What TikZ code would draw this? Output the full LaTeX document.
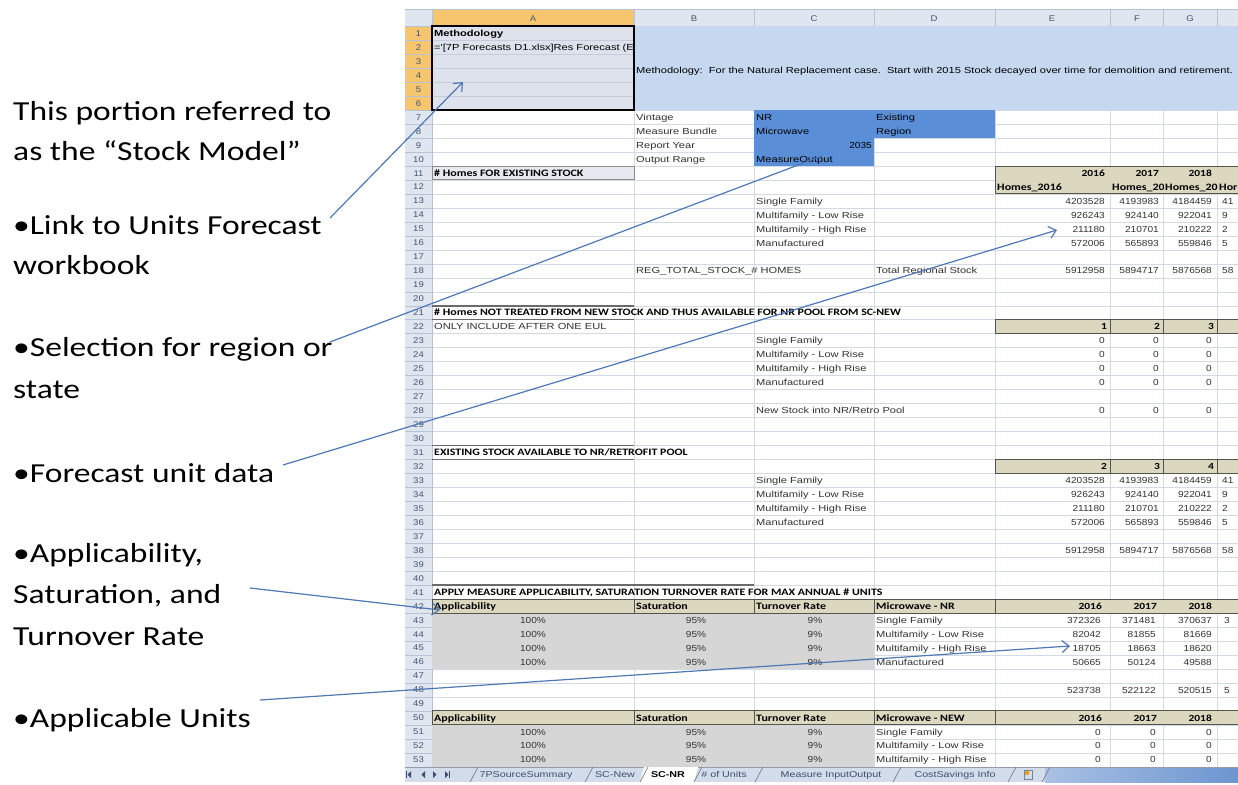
\documentclass[tikz,border=0pt]{standalone}
\usepackage{fontspec}
\setmainfont{Liberation Sans}
\newfontfamily\lblfont[FakeStretch=1.22]{Carlito}
\newfontfamily\cellfont[FakeStretch=1.26]{Liberation Sans}
\newfontfamily\numfont[FakeStretch=1.15]{Liberation Sans}
\newfontfamily\hdfont[FakeStretch=1.22]{Carlito}
\usetikzlibrary{arrows.meta}
\definecolor{gridc}{HTML}{D3DAE6}
\definecolor{hdrbg}{HTML}{DFE6F0}
\definecolor{hdrline}{HTML}{B7C3D5}
\definecolor{hdrtx}{HTML}{44546F}
\definecolor{selhdr}{HTML}{F6C66E}
\definecolor{selfill}{HTML}{DDE2EC}
\definecolor{selline}{HTML}{C6CDDA}
\definecolor{methblue}{HTML}{C5D8F0}
\definecolor{midblue}{HTML}{5A8FD8}
\definecolor{tanc}{HTML}{DCD8C0}
\definecolor{tanedge}{HTML}{55544C}
\definecolor{grayfill}{HTML}{D6D6D6}
\definecolor{celltx}{HTML}{333333}
\definecolor{arrowc}{HTML}{4F78B5}
\definecolor{tabbg}{HTML}{D3DCEA}
\definecolor{tabtx}{HTML}{3C4E6E}
\definecolor{linec}{HTML}{6A6A6A}
\definecolor{boxfill}{HTML}{E6EAF0}
\definecolor{boxedge}{HTML}{8C8C8C}
\definecolor{tabblueL}{HTML}{A9C1E4}
\definecolor{tabblueR}{HTML}{6C95CF}
\begin{document}
\begin{tikzpicture}[x=1pt,y=-1pt,
  declare function={rc(\k)=33.3+(\k-1)*13.97; rt(\k)=26.3+(\k-1)*13.97;},
  cl/.style={font=\cellfont\fontsize{8.8}{10}\selectfont, text=celltx, inner sep=0pt, anchor=base west},
  cr/.style={cl, anchor=base east, font=\numfont\fontsize{8.8}{10}\selectfont},
  cc/.style={cl, anchor=base, font=\numfont\fontsize{8.8}{10}\selectfont},
  hb/.style={font=\hdfont\bfseries\fontsize{9.8}{10}\selectfont, text=black, inner sep=0pt, anchor=base west},
  hbr/.style={hb, anchor=base east, font=\hdfont\bfseries\fontsize{9.4}{10}\selectfont},
  lbl/.style={font=\lblfont\fontsize{27.5}{41.5}\selectfont, text=black, inner sep=0pt, anchor=base west},
  rn/.style={font=\numfont\fontsize{8.3}{10}\selectfont, text=hdrtx, inner sep=0pt, anchor=base},
  tabt/.style={font=\cellfont\fontsize{8.5}{10}\selectfont, text=tabtx, inner sep=0pt, anchor=base},
  conn/.style={draw=arrowc, line width=1.2pt},
  tip/.style={-{Straight Barb[length=7pt,width=12pt]}},
  tanbox/.style={fill=tanc, draw=tanedge, line width=0.9pt},
  secline/.style={draw=linec, line width=1.6pt}
]
\useasboundingbox (0,0) rectangle (1238,784);
\fill[white] (0,0) rectangle (1238,784);
% ---------- spreadsheet frame ----------
\fill[white] (405,8) rectangle (1238,767);
\draw[hdrline] (405,9) -- (1238,9);
% grid
\foreach \r in {1,...,54} \draw[gridc] (432,{rt(\r)}) -- (1238,{rt(\r)});
\foreach \x in {432,634,754,874,995,1110,1163,1217} \draw[gridc] (\x,26.3) -- (\x,{rt(54)});
% header band
\fill[hdrbg] (405,10) rectangle (1238,26.3);
\fill[selhdr] (432,10) rectangle (634,26.3);
\foreach \x in {432,634,754,874,995,1110,1163,1217} \draw[hdrline] (\x,10) -- (\x,26.3);
\draw[hdrline] (405,26.3) -- (1238,26.3);
% row header column
\fill[hdrbg] (405,26.3) rectangle (432,{rt(54)});
\fill[selhdr] (405,26.3) rectangle (432,{rt(7)});
\foreach \r in {1,...,54} \draw[hdrline] (405,{rt(\r)}) -- (432,{rt(\r)});
\draw[hdrline] (432,10) -- (432,{rt(54)});
% ---------- cell fills ----------
\fill[selfill] (432,{rt(1)}) rectangle (634,{rt(7)});
\foreach \r in {2,...,6} \draw[selline] (432,{rt(\r)}) -- (634,{rt(\r)});
\fill[methblue] (634,{rt(1)}) rectangle (1238,{rt(7)});
\fill[midblue] (754,{rt(7)}) rectangle (874,{rt(11)});
\fill[midblue] (874,{rt(7)}) rectangle (995,{rt(9)});
\draw[line width=2pt,black] (432,{rt(1)}) rectangle (634,{rt(7)});
\draw[fill=boxfill, draw=boxedge, line width=1pt] (432,{rt(11)}) rectangle (634,{rt(12)});
\draw[tanbox] (995,{rt(11)}) rectangle (1245,{rt(13)});
\draw[tanbox] (995,{rt(22)}) rectangle (1245,{rt(23)});
\foreach \x in {1110,1163,1217} \draw[tanedge,line width=0.9pt] (\x,{rt(22)}) -- (\x,{rt(23)});
\draw[tanbox] (995,{rt(32)}) rectangle (1245,{rt(33)});
\foreach \x in {1110,1163,1217} \draw[tanedge,line width=0.9pt] (\x,{rt(32)}) -- (\x,{rt(33)});
\draw[secline] (432,{rt(21)}) -- (634,{rt(21)});
\draw[secline] (432,{rt(22)}) -- (634,{rt(22)});
\draw[secline] (432,{rt(31)}) -- (634,{rt(31)});
\draw[secline] (432,{rt(32)}) -- (634,{rt(32)});
\draw[secline] (432,{rt(41)}) -- (754,{rt(41)});
\fill[grayfill] (432,{rt(43)}) rectangle (874,{rt(47)});
\fill[grayfill] (432,{rt(51)}) rectangle (874,{rt(54)});
\draw[tanbox] (432,{rt(42)}) rectangle (1245,{rt(43)});
\draw[tanbox] (432,{rt(50)}) rectangle (1245,{rt(51)});
\foreach \x in {634,754,874,995} {
  \draw[tanedge,line width=0.9pt] (\x,{rt(42)}) -- (\x,{rt(43)});
  \draw[tanedge,line width=0.9pt] (\x,{rt(50)}) -- (\x,{rt(51)});
}
% ---------- headers text ----------
\foreach \c/\x in {A/533,B/694,C/814,D/934,E/1052,F/1137,G/1190}
  \node[rn] (col\c) at (\x,21.3) {\c};
\foreach \r in {1,...,53} \node[rn] (rn\r) at (418.5,{rc(\r)+3}) {\r};
% ---------- cell texts ----------
\node[cl, font=\cellfont\bfseries\fontsize{8.8}{10}\selectfont, text=black] (A1) at (434,{rc(1)+3.2}) {Methodology};
\begin{scope}
  \clip (432,{rt(2)}) rectangle (633,{rt(3)});
  \node[cl, text=black] (A2) at (434,{rc(2)+3.2}) {='[7P Forecasts D1.xlsx]Res Forecast (E};
\end{scope}
\node[cl, text=black] (B4) at (636,73) {Methodology:\ \ For the Natural Replacement case.\ \ Start with 2015 Stock decayed over time for demolition and retirement.};
\node[cl] (B7) at (636,{rc(7)+3.2}) {Vintage};
\node[cl] (B8) at (636,{rc(8)+3.2}) {Measure Bundle};
\node[cl] (B9) at (636,{rc(9)+3.2}) {Report Year};
\node[cl] (B10) at (636,{rc(10)+3.2}) {Output Range};
\node[cl, text=black] (C7) at (756,{rc(7)+3.2}) {NR};
\node[cl, text=black] (C8) at (756,{rc(8)+3.2}) {Microwave};
\node[cr, text=black] (C9) at (872,{rc(9)+3.2}) {2035};
\node[cl, text=black] (C10) at (756,{rc(10)+3.2}) {MeasureOutput};
\node[cl, text=black] (D7) at (876,{rc(7)+3.2}) {Existing};
\node[cl, text=black] (D8) at (876,{rc(8)+3.2}) {Region};
\node[hb] (A11) at (434,{rc(11)+3.2}) {\# Homes FOR EXISTING STOCK};
\node[hbr] (E11) at (1105,{rc(11)+3.2}) {2016};
\node[hbr] (F11) at (1159,{rc(11)+3.2}) {2017};
\node[hbr] (G11) at (1212,{rc(11)+3.2}) {2018};
\node[hb] (E12) at (997,{rc(12)+3.2}) {Homes\_2016};
\begin{scope}
  \clip (1110,{rt(12)}) rectangle (1163,{rt(13)});
  \node[hb] (F12) at (1112,{rc(12)+3.2}) {Homes\_20};
\end{scope}
\begin{scope}
  \clip (1163,{rt(12)}) rectangle (1217,{rt(13)});
  \node[hb] (G12) at (1165,{rc(12)+3.2}) {Homes\_20};
\end{scope}
\node[hb] (H12) at (1219,{rc(12)+3.2}) {Hor};
% family labels in C
\foreach \r/\lab in {13/Single Family,14/Multifamily - Low Rise,15/Multifamily - High Rise,16/Manufactured,
                     23/Single Family,24/Multifamily - Low Rise,25/Multifamily - High Rise,26/Manufactured,
                     33/Single Family,34/Multifamily - Low Rise,35/Multifamily - High Rise,36/Manufactured}
  \node[cl] (C\r) at (756,{rc(\r)+3.2}) {\lab};
% stock values
\foreach \r/\a/\b/\c/\h in {13/4203528/4193983/4184459/41,14/926243/924140/922041/9,15/211180/210701/210222/2,16/572006/565893/559846/5,
                            18/5912958/5894717/5876568/58,
                            33/4203528/4193983/4184459/41,34/926243/924140/922041/9,35/211180/210701/210222/2,36/572006/565893/559846/5,
                            38/5912958/5894717/5876568/58} {
  \node[cr] (E\r) at (1105,{rc(\r)+3.2}) {\a};
  \node[cr] (F\r) at (1159,{rc(\r)+3.2}) {\b};
  \node[cr] (G\r) at (1212,{rc(\r)+3.2}) {\c};
  \node[cr, anchor=base west] (H\r) at (1222,{rc(\r)+3.2}) {\h};
}
\node[cl] (B18) at (636,{rc(18)+3.2}) {REG\_TOTAL\_STOCK\_\# HOMES};
\node[cl] (D18) at (876,{rc(18)+3.2}) {Total Regional Stock};
\node[hb] (A21) at (434,{rc(21)+3.2}) {\# Homes NOT TREATED FROM NEW STOCK AND THUS AVAILABLE FOR NR POOL FROM SC-NEW};
\node[cl] (A22) at (434,{rc(22)+3.2}) {ONLY INCLUDE AFTER ONE EUL};
\node[hbr] (E22) at (1107,{rc(22)+3.2}) {1};
\node[hbr] (F22) at (1160,{rc(22)+3.2}) {2};
\node[hbr] (G22) at (1214,{rc(22)+3.2}) {3};
\foreach \r in {23,24,25,26,28} {
  \node[cr] (E\r) at (1105,{rc(\r)+3.2}) {0};
  \node[cr] (F\r) at (1159,{rc(\r)+3.2}) {0};
  \node[cr] (G\r) at (1212,{rc(\r)+3.2}) {0};
}
\node[cl] (C28) at (756,{rc(28)+3.2}) {New Stock into NR/Retro Pool};
\node[hb] (A31) at (434,{rc(31)+3.2}) {EXISTING STOCK AVAILABLE TO NR/RETROFIT POOL};
\node[hbr] (E32) at (1107,{rc(32)+3.2}) {2};
\node[hbr] (F32) at (1160,{rc(32)+3.2}) {3};
\node[hbr] (G32) at (1214,{rc(32)+3.2}) {4};
\node[hb] (A41) at (434,{rc(41)+3.2}) {APPLY MEASURE APPLICABILITY, SATURATION TURNOVER RATE FOR MAX ANNUAL \# UNITS};
% measure tables
\foreach \r/\m in {42/Microwave - NR,50/Microwave - NEW} {
  \node[hb] (A\r) at (434,{rc(\r)+3.2}) {Applicability};
  \node[hb] (B\r) at (636,{rc(\r)+3.2}) {Saturation};
  \node[hb] (C\r) at (756,{rc(\r)+3.2}) {Turnover Rate};
  \node[hb] (D\r) at (876,{rc(\r)+3.2}) {\m};
  \node[hbr] (E\r) at (1102,{rc(\r)+3.2}) {2016};
  \node[hbr] (F\r) at (1157,{rc(\r)+3.2}) {2017};
  \node[hbr] (G\r) at (1212,{rc(\r)+3.2}) {2018};
}
\foreach \r/\lab in {43/Single Family,44/Multifamily - Low Rise,45/Multifamily - High Rise,46/Manufactured,
                     51/Single Family,52/Multifamily - Low Rise,53/Multifamily - High Rise} {
  \node[cc] (A\r) at (533,{rc(\r)+3.2}) {100\%};
  \node[cc] (B\r) at (696,{rc(\r)+3.2}) {95\%};
  \node[cc] (C\r) at (815,{rc(\r)+3.2}) {9\%};
  \node[cl] (D\r) at (876,{rc(\r)+3.2}) {\lab};
}
\foreach \r/\a/\b/\c in {43/372326/371481/370637,44/82042/81855/81669,45/18705/18663/18620,46/50665/50124/49588,
                         48/523738/522122/520515,51/0/0/0,52/0/0/0,53/0/0/0} {
  \node[cr] (E\r) at (1101,{rc(\r)+3.2}) {\a};
  \node[cr] (F\r) at (1156,{rc(\r)+3.2}) {\b};
  \node[cr] (G\r) at (1212,{rc(\r)+3.2}) {\c};
}
\node[cr, anchor=base west] (H43) at (1224,{rc(43)+3.2}) {3};
\node[cr, anchor=base west] (H48) at (1224,{rc(48)+3.2}) {5};
% ---------- sheet tab bar ----------
\fill[tabbg] (405,767) rectangle (1045,782);
\shade[left color=tabblueL, right color=tabblueR] (1045,767) rectangle (1238,782);
\draw[hdrline!80!black] (405,767) -- (1238,767);
\fill[white] (644,767) -- (698,767) -- (694,782) -- (640,782) -- cycle;
\foreach \x in {474,589,644,698,759,897,1012,1046}
  \draw[hdrline!60!black, line width=0.6pt] (\x-4,782) -- (\x+4,767);
\fill[tabtx] (411,771) -- (411,778) -- (407.5,774.5) -- cycle;
\draw[tabtx, line width=0.8pt] (406.5,771) -- (406.5,778);
\fill[tabtx] (425,771) -- (425,778) -- (421.5,774.5) -- cycle;
\fill[tabtx] (433,771) -- (433,778) -- (436.5,774.5) -- cycle;
\fill[tabtx] (445,771) -- (445,778) -- (448.5,774.5) -- cycle;
\draw[tabtx, line width=0.8pt] (449.5,771) -- (449.5,778);
\node[tabt] (tab1) at (526,777.5) {7PSourceSummary};
\node[tabt] (tab2) at (615,777.5) {SC-New};
\node[tabt, font=\cellfont\bfseries\fontsize{8.5}{10}\selectfont, text=black] (tab3) at (668,777.5) {SC-NR};
\node[tabt] (tab4) at (724,777.5) {\# of Units};
\node[tabt] (tab5) at (831,777.5) {Measure InputOutput};
\node[tabt] (tab6) at (955,777.5) {CostSavings Info};
\draw[tabtx!70, line width=0.5pt] (1024,770.5) rectangle (1032,779.5);
\fill[orange!80!yellow] (1027,773) circle (2.2pt);
% ---------- left labels ----------
\node[lbl] (t1a) at (13,120) {This portion referred to};
\node[lbl] (t1b) at (13,160) {as the “Stock Model”};
\node[lbl] (t2a) at (13,234) {•Link to Units Forecast};
\node[lbl] (t2b) at (13,274) {workbook};
\node[lbl] (t3a) at (13,356) {•Selection for region or};
\node[lbl] (t3b) at (13,398) {state};
\node[lbl] (t4) at (13,482) {•Forecast unit data};
\node[lbl] (t5a) at (13,562) {•Applicability,};
\node[lbl] (t5b) at (13,603) {Saturation, and};
\node[lbl] (t5c) at (13,645) {Turnover Rate};
\node[lbl] (t6) at (13,727) {•Applicable Units};
% ---------- connectors ----------
\coordinate (s1) at (330,218); \coordinate (e1) at (463,82);
\coordinate (s2) at (330,342); \coordinate (e2) at (822,156);
\coordinate (s3) at (283,465); \coordinate (e3) at (1057,230);
\coordinate (s4) at (250,588); \coordinate (e4) at (440,610);
\coordinate (s5) at (260,700); \coordinate (e5) at (1070,646);
\draw[conn, tip] (s1) -- (e1);
\draw[conn] (s2) -- (e2);
\draw[conn, tip] (s3) -- (e3);
\draw[conn, tip] (s4) -- (e4);
\draw[conn, tip] (s5) -- (e5);
\end{tikzpicture}
\end{document}
